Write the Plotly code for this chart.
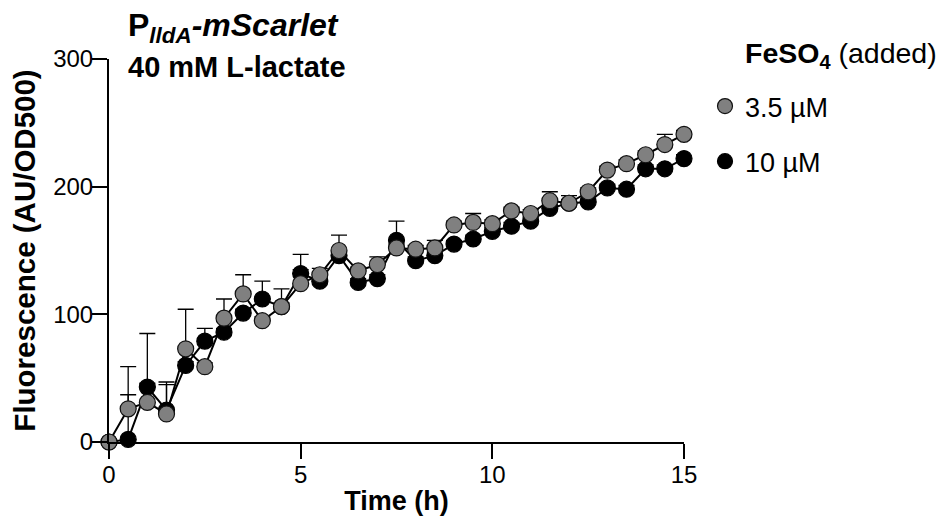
import plotly.graph_objects as go

time_h = [0, 0.5, 1, 1.5, 2, 2.5, 3, 3.5, 4, 4.5, 5, 5.5, 6, 6.5, 7, 7.5, 8, 8.5, 9, 9.5,
          10, 10.5, 11, 11.5, 12, 12.5, 13, 13.5, 14, 14.5, 15]

fe_35_mean = [0, 26, 31, 22, 73, 59, 97, 116, 95, 106, 124, 131, 150, 134, 139, 152, 151, 152, 170, 172,
              171, 181, 179, 189, 187, 196, 213, 218, 225, 233, 241]
fe_35_err = [0, 33, 54, 25, 31, 3, 15, 15, 3, 14, 23, 5, 12, 3, 6, 3, 3, 6, 3, 7,
             3, 3, 3, 7, 6, 3, 3, 3, 3, 8, 3]

fe_10_mean = [0, 2, 43, 25, 60, 79, 86, 101, 112, 106, 132, 126, 146, 125, 128, 158, 142, 146, 155, 159,
              165, 169, 173, 183, 187, 188, 199, 198, 214, 214, 222]
fe_10_err = [0, 35, 3, 20, 3, 10, 3, 3, 14, 3, 3, 3, 3, 3, 3, 15, 3, 3, 3, 3,
             3, 3, 3, 3, 3, 3, 3, 3, 3, 3, 3]

series_names = ["3.5 µM", "10 µM"]
x_ticks = [0, 5, 10, 15]
y_ticks = [0, 100, 200, 300]

FONT = "Liberation Sans, Arial, sans-serif"
GRAY = "#808080"
BLACK = "#000000"

fig = go.Figure()

# 10 µM (drawn first, beneath)
fig.add_trace(go.Scatter(
    x=time_h, y=fe_10_mean, mode="lines+markers", showlegend=False,
    line=dict(color=BLACK, width=2),
    marker=dict(size=16, color=BLACK, line=dict(color=BLACK, width=1.2)),
    error_y=dict(type="data", array=fe_10_err, arrayminus=[0] * len(fe_10_err), symmetric=False,
                 color=BLACK, thickness=1.3, width=8),
    cliponaxis=False,
))
# 3.5 µM (on top)
fig.add_trace(go.Scatter(
    x=time_h, y=fe_35_mean, mode="lines+markers", showlegend=False,
    line=dict(color=BLACK, width=2),
    marker=dict(size=16, color=GRAY, line=dict(color="#111111", width=1.2)),
    error_y=dict(type="data", array=fe_35_err, arrayminus=[0] * len(fe_35_err), symmetric=False,
                 color=BLACK, thickness=1.3, width=8),
    cliponaxis=False,
))

# legend-only entries
fig.add_trace(go.Scatter(x=[None], y=[None], mode="markers", name=series_names[0],
                         legendgroup="a",
                         marker=dict(size=15, color=GRAY, line=dict(color="#111111", width=1.2))))
fig.add_trace(go.Scatter(x=[None], y=[None], mode="markers", name=series_names[1],
                         legendgroup="b",
                         marker=dict(size=15, color=BLACK, line=dict(color=BLACK, width=1.2))))

L, R, T, B = 109, 258, 59, 81
W, H = 942, 523
pw, ph = W - L - R, H - T - B


def px_x(px):
    return (px - L) / pw


def px_y(py):
    return (H - B - py) / ph


fig.update_layout(
    width=W, height=H,
    margin=dict(l=L, r=R, t=T, b=B, pad=0),
    paper_bgcolor="white", plot_bgcolor="white",
    font=dict(family=FONT, color="black", size=24),
    showlegend=True,
    legend=dict(x=px_x(705), y=px_y(82), xanchor="left", yanchor="top",
                font=dict(size=27, family=FONT, color="black"),
                traceorder="grouped", tracegroupgap=17, itemsizing="trace",
                bgcolor="rgba(0,0,0,0)"),
    xaxis=dict(range=[0, 15], tickvals=x_ticks, ticktext=[str(v) for v in x_ticks],
               showgrid=False, zeroline=False, showline=True, linecolor="black", linewidth=2,
               ticks="outside", ticklen=15, tickwidth=2, tickcolor="black",
               tickfont=dict(size=24, family=FONT), ticklabelstandoff=-5,
               title=dict(text="<b>Time (h)</b>", font=dict(size=27, family=FONT), standoff=4)),
    yaxis=dict(range=[0, 300], tickvals=y_ticks, ticktext=[str(v) for v in y_ticks],
               showgrid=False, zeroline=False, showline=True, linecolor="black", linewidth=2,
               ticks="outside", ticklen=15, tickwidth=2, tickcolor="black",
               tickfont=dict(size=24, family=FONT), ticklabelstandoff=-6,
               title=dict(text="<b>Fluorescence (AU/OD500)</b>", font=dict(size=29.5, family=FONT), standoff=9)),
    annotations=[
        dict(text="<b>P<sub><i>lldA</i></sub><i>-mScarlet</i></b>", xref="paper", yref="paper",
             x=px_x(126), y=px_y(5), xanchor="left", yanchor="top", showarrow=False,
             font=dict(size=32, family=FONT, color="black")),
        dict(text="<b>40 mM L-lactate</b>", xref="paper", yref="paper",
             x=px_x(126), y=px_y(67), xanchor="left", yanchor="middle", showarrow=False,
             font=dict(size=29, family=FONT, color="black")),
        dict(text="<b>FeSO<sub>4</sub></b> (added)", xref="paper", yref="paper",
             x=px_x(743), y=px_y(55), xanchor="left", yanchor="middle", showarrow=False,
             font=dict(size=28.5, family=FONT, color="black")),
    ],
)

fig.write_html("out.html")
